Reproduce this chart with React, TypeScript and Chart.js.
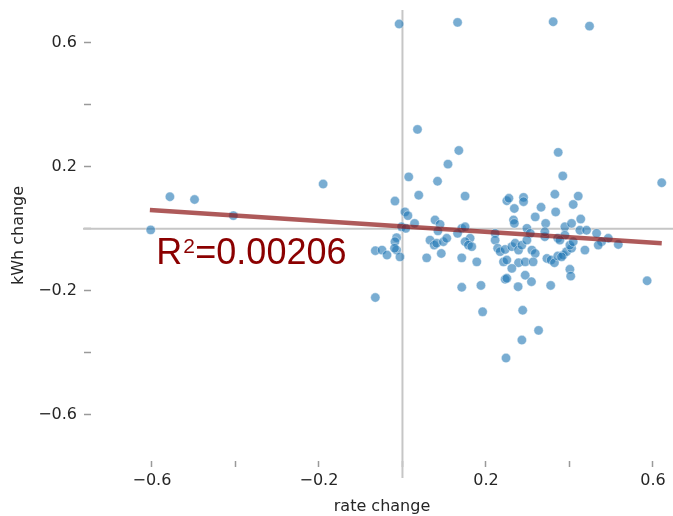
import React, { useEffect, useRef } from 'react';
import { Chart, registerables } from 'chart.js';

Chart.register(...registerables);

// ---- data ----
const rateChange: number[] = [
  -0.603, -0.557, -0.498, -0.405, -0.190, -0.065, -0.065,
  -0.008, 0.132, 0.361, 0.448, 0.036, 0.135, 0.373, 0.109, 0.015, 0.084, 0.384, 0.621,
  0.039, 0.150, 0.365, 0.421, -0.018,
  0.006, 0.013, 0.029, -0.002, 0.008, -0.014, -0.018, -0.014, -0.019, -0.049, -0.037, -0.006,
  0.078, 0.090, 0.085, 0.066, 0.076, 0.082, 0.098, 0.106, 0.058, 0.093,
  0.142, 0.150, 0.132, 0.162, 0.150, 0.158, 0.166, 0.142, 0.178, 0.142, 0.188, 0.192,
  0.250, 0.255, 0.290, 0.290, 0.268, 0.332, 0.367, 0.318, 0.266, 0.268, 0.343, 0.389,
  0.405, 0.427, 0.425, 0.222, 0.222, 0.298, 0.306, 0.341, 0.372, 0.389,
  0.228, 0.234, 0.246, 0.262, 0.270, 0.278, 0.286, 0.298, 0.310, 0.318,
  0.242, 0.250, 0.278, 0.294, 0.313, 0.262, 0.246, 0.250, 0.294, 0.309, 0.277, 0.355,
  0.288, 0.326, 0.286, 0.248,
  0.346, 0.356, 0.364, 0.372, 0.385, 0.393, 0.405, 0.401, 0.403, 0.409,
  0.441, 0.465, 0.493, 0.477, 0.469, 0.517, 0.437, 0.401, 0.381, 0.586, 0.377, 0.409, 0.341,
];
const kwhChange: number[] = [
  -0.004, 0.103, 0.094, 0.042, 0.144, -0.222, -0.071,
  0.660, 0.665, 0.667, 0.653, 0.320, 0.252, 0.246, 0.208, 0.167, 0.153, 0.170, 0.148,
  0.108, 0.105, 0.111, 0.105, 0.089,
  0.054, 0.042, 0.017, 0.006, 0.001, -0.029, -0.042, -0.069, -0.063, -0.069, -0.085, -0.091,
  0.028, 0.014, -0.007, -0.037, -0.053, -0.047, -0.042, -0.031, -0.094, -0.080,
  0.001, 0.006, -0.015, -0.031, -0.042, -0.053, -0.058, -0.094, -0.107, -0.189, -0.183, -0.268,
  0.090, 0.098, 0.101, 0.087, 0.065, 0.069, 0.054, 0.038, 0.028, 0.017, 0.017, 0.006,
  0.017, 0.031, -0.005, -0.015, -0.037, 0.001, -0.015, -0.026, -0.031, -0.021,
  -0.063, -0.074, -0.067, -0.058, -0.047, -0.069, -0.053, -0.037, -0.069, -0.080,
  -0.107, -0.101, -0.110, -0.107, -0.107, -0.128, -0.163, -0.160, -0.150, -0.171, -0.187, -0.183,
  -0.263, -0.328, -0.359, -0.417,
  -0.096, -0.101, -0.110, -0.088, -0.085, -0.074, -0.063, -0.131, -0.153, 0.078,
  -0.005, -0.015, -0.031, -0.042, -0.053, -0.051, -0.069, -0.053, -0.091, -0.168, -0.037, -0.042, -0.010,
];

// regression line end points
const fitX: number[] = [-0.605, 0.621];
const fitY: number[] = [0.060, -0.047];

// annotation
const r2Text = '0.00206';
const r2AnchorX = -0.59;
const r2AnchorY = -0.115;

// axes
const labeledTicks: number[] = [-0.6, -0.2, 0.2, 0.6];
const xMin = -0.746;
const xMax = 0.648;
const yMin = -0.749;
const yMax = 0.705;
const tickStep = 0.2;
const xTitle = 'rate change';
const yTitle = 'kWh change';

const TEXT = '#262626';
const FONT = 'DejaVu Sans';

function fmtTick(v: number): string {
  const r = Math.round(v * 10) / 10;
  if (Math.abs(v - r) > 1e-6) return '';
  if (!labeledTicks.some((t) => Math.abs(t - r) < 1e-6)) return '';
  return (r < 0 ? '\u2212' : '') + Math.abs(r).toFixed(1);
}

const zeroLines = {
  id: 'zeroLines',
  beforeDatasetsDraw(chart: any) {
    const { ctx, chartArea, scales } = chart;
    const px = scales.x.getPixelForValue(0);
    const py = scales.y.getPixelForValue(0);
    ctx.save();
    ctx.strokeStyle = '#c6c6c6';
    ctx.lineWidth = 2;
    ctx.beginPath();
    ctx.moveTo(px, chartArea.top);
    ctx.lineTo(px, chartArea.bottom + 17);
    ctx.stroke();
    ctx.beginPath();
    ctx.moveTo(chartArea.left - 8, py);
    ctx.lineTo(chartArea.right, py);
    ctx.stroke();
    ctx.restore();
  },
};

const r2Label = {
  id: 'r2Label',
  afterDatasetsDraw(chart: any) {
    const { ctx, scales } = chart;
    let x = scales.x.getPixelForValue(r2AnchorX);
    const y = scales.y.getPixelForValue(r2AnchorY);
    ctx.save();
    ctx.fillStyle = '#8b0000';
    ctx.textBaseline = 'alphabetic';
    ctx.textAlign = 'left';
    ctx.font = '36px "Liberation Sans"';
    ctx.fillText('R', x, y);
    x += ctx.measureText('R').width + 1;
    ctx.font = '21px "Liberation Sans"';
    ctx.fillText('2', x, y - 11.5);
    x += ctx.measureText('2').width + 0.5;
    ctx.font = '36px "Liberation Sans"';
    ctx.fillText('=' + r2Text, x, y);
    ctx.restore();
  },
};

export default function App() {
  const ref = useRef<HTMLCanvasElement>(null);
  useEffect(() => {
    document.body.style.margin = '0';
    const canvas = ref.current;
    if (!canvas) return;
    const tickFont = { family: FONT, size: 16 };
    const chart = new Chart(canvas, {
      type: 'scatter',
      data: {
        datasets: [
          {
            data: fitX.map((x, i) => ({ x, y: fitY[i] })),
            showLine: true,
            borderColor: 'rgba(140,20,20,0.7)',
            borderWidth: 4.5,
            pointRadius: 0,
            pointHoverRadius: 0,
            order: 0,
          } as any,
          {
            data: rateChange.map((x, i) => ({ x, y: kwhChange[i] })),
            backgroundColor: 'rgba(31,119,180,0.6)',
            borderColor: 'rgba(255,255,255,0.7)',
            borderWidth: 0.6,
            pointRadius: 4.7,
            pointHoverRadius: 4.7,
            order: 1,
          },
        ],
      },
      options: {
        responsive: false,
        animation: false,
        events: [],
        layout: { autoPadding: false, padding: { top: 10, right: 0, left: 0, bottom: 0 } },
        plugins: { legend: { display: false }, tooltip: { enabled: false } },
        scales: {
          x: {
            type: 'linear',
            min: xMin,
            max: xMax,
            afterFit: (s: any) => {
              s.height = 55;
              s.paddingLeft = 0;
              s.paddingRight = 0;
            },
            border: { display: false },
            grid: {
              drawOnChartArea: false,
              drawTicks: true,
              tickLength: 6,
              tickColor: '#9a9a9a',
              tickWidth: 1.5,
            },
            ticks: {
              stepSize: tickStep,
              includeBounds: false,
              autoSkip: false,
              maxRotation: 0,
              padding: 4,
              color: TEXT,
              font: tickFont,
              callback: (v: any) => fmtTick(Number(v)),
            },
            title: {
              display: true,
              text: xTitle,
              color: TEXT,
              font: tickFont,
              padding: { top: 0, bottom: 0 },
            },
          },
          y: {
            type: 'linear',
            min: yMin,
            max: yMax,
            afterFit: (s: any) => {
              s.width = 91;
              s.paddingTop = 0;
              s.paddingBottom = 0;
            },
            border: { display: false },
            grid: {
              drawOnChartArea: false,
              drawTicks: true,
              tickLength: 7,
              tickColor: '#9a9a9a',
              tickWidth: 1.5,
            },
            ticks: {
              stepSize: tickStep,
              includeBounds: false,
              autoSkip: false,
              padding: 7,
              color: TEXT,
              font: tickFont,
              callback: (v: any) => fmtTick(Number(v)),
            },
            title: {
              display: true,
              text: yTitle,
              color: TEXT,
              font: tickFont,
              padding: { top: 9.5, bottom: 0 },
            },
          },
        },
      } as any,
      plugins: [zeroLines, r2Label],
    });
    return () => chart.destroy();
  }, []);
  return <canvas ref={ref} width={673} height={516} style={{ display: 'block' }} />;
}
